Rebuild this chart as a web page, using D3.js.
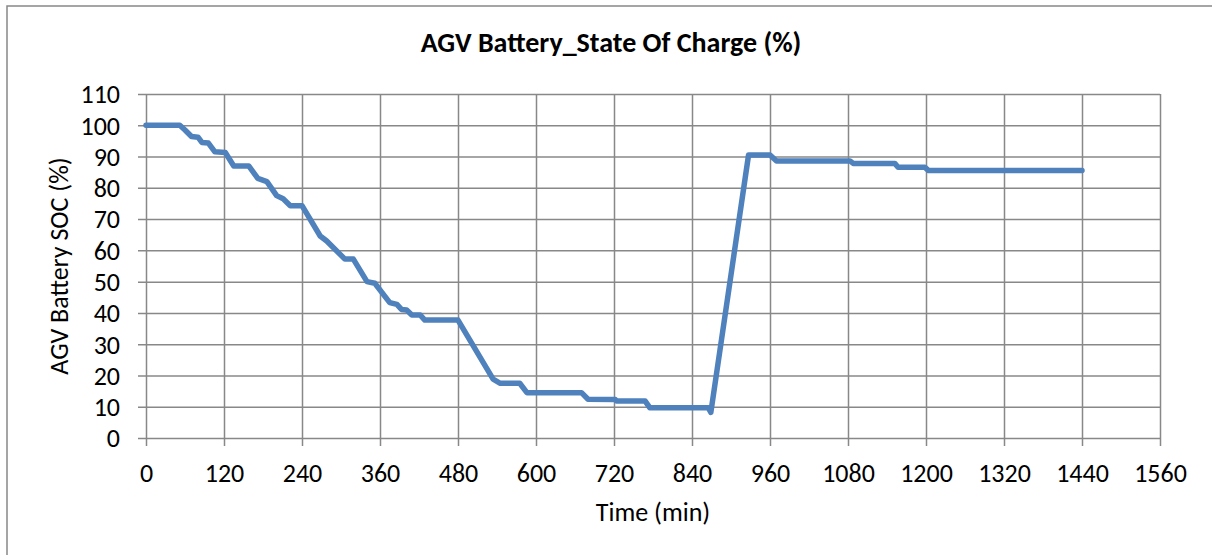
<!DOCTYPE html>
<html>
<head>
<meta charset="utf-8">
<script src="https://cdn.jsdelivr.net/npm/d3@7/dist/d3.min.js"></script>
<style>
  html, body { margin: 0; padding: 0; background: #fff; }
  svg { display: block; }
  svg text { font-family: Carlito, Lato, "Open Sans", sans-serif; }
</style>
</head>
<body>
<svg id="chart" width="1212" height="555"></svg>
<script>
// Time since start of shift (min)
const timeMin = [0, 52, 60, 70, 80, 86, 96, 106, 122, 135, 158, 172, 186, 201, 211, 222, 240,
  268, 278, 306, 319, 340, 352, 375, 386, 393, 401, 409, 422, 429, 480, 534, 545, 575, 586,
  670, 680, 722, 724, 768, 775, 865, 869, 927, 960, 970, 1083, 1088, 1152, 1157, 1198, 1204, 1440];
// Battery state of charge (%)
const socPct = [100, 100, 98.5, 96.4, 96.2, 94.5, 94.3, 91.5, 91.3, 87, 87, 83, 82, 77.5, 76.5, 74.3, 74.3,
  64.6, 63, 57.2, 57.2, 50, 49.5, 43.3, 42.7, 41.1, 40.9, 39.3, 39.3, 37.7, 37.7, 18.8, 17.5, 17.5, 14.5,
  14.5, 12.4, 12.3, 11.8, 11.8, 9.7, 9.7, 8.2, 90.5, 90.5, 88.6, 88.6, 87.8, 87.8, 86.6, 86.6, 85.5, 85.5];

const xTicks = d3.range(0, 1561, 120);
const yTicks = d3.range(0, 111, 10);

const chartTitle = "AGV Battery_State Of Charge (%)";
const xTitle = "Time (min)";
const yTitle = "AGV Battery SOC (%)";

const svg = d3.select("#chart");
const plot = { left: 146, right: 1160, top: 94, bottom: 438 };
const gridColor = "#888888";
const fontStack = 'Carlito, Lato, "Open Sans", sans-serif';

// chart frame
svg.append("rect")
  .attr("x", 7).attr("y", 6)
  .attr("width", 1220).attr("height", 570)
  .attr("fill", "#fff")
  .attr("stroke", gridColor).attr("stroke-width", 1.5);

const x = d3.scaleLinear().domain([0, 1560]).range([plot.left, plot.right]);
const y = d3.scaleLinear().domain([0, 110]).range([plot.bottom, plot.top]);

// horizontal gridlines + y axis
const yAxis = svg.append("g")
  .attr("transform", `translate(${plot.left},0)`)
  .call(d3.axisLeft(y).tickValues(yTicks).tickSize(8).tickFormat(d3.format("d")))
  .attr("font-family", fontStack);
yAxis.select(".domain").remove();
yAxis.selectAll(".tick line")
  .attr("x2", plot.right - plot.left).attr("x1", -8)
  .attr("stroke", gridColor).attr("stroke-width", 1.5);
yAxis.selectAll(".tick text")
  .attr("x", -26)
  .attr("fill", "#000").style("font-size", "26px").attr("dy", "0.34em");

// vertical gridlines + x axis
const xAxis = svg.append("g")
  .attr("transform", `translate(0,${plot.bottom})`)
  .call(d3.axisBottom(x).tickValues(xTicks).tickSize(8).tickFormat(d3.format("d")))
  .attr("font-family", fontStack);
xAxis.select(".domain").remove();
xAxis.selectAll(".tick line")
  .attr("y1", -(plot.bottom - plot.top)).attr("y2", 8)
  .attr("stroke", gridColor).attr("stroke-width", 1.5);
xAxis.selectAll(".tick text")
  .attr("y", 43.5).attr("dy", null)
  .attr("fill", "#000").style("font-size", "26px");

// SOC trace
const line = d3.line()
  .x((d, i) => x(timeMin[i]))
  .y(d => y(d));
svg.append("path")
  .datum(socPct)
  .attr("d", line)
  .attr("fill", "none")
  .attr("stroke", "#4F81BD")
  .attr("stroke-width", 5.5)
  .attr("stroke-linejoin", "round")
  .attr("stroke-linecap", "round");

// titles
svg.append("text")
  .attr("x", 611).attr("y", 52)
  .attr("text-anchor", "middle")
  .style("font-size", "28px").style("font-weight", "bold")
  .text(chartTitle);

svg.append("text")
  .attr("x", (plot.left + plot.right) / 2).attr("y", 521)
  .attr("text-anchor", "middle")
  .style("font-size", "26px")
  .text(xTitle);

svg.append("text")
  .attr("transform", `translate(68,${(plot.top + plot.bottom) / 2}) rotate(-90)`)
  .attr("text-anchor", "middle")
  .style("font-size", "26px")
  .text(yTitle);
</script>
</body>
</html>
